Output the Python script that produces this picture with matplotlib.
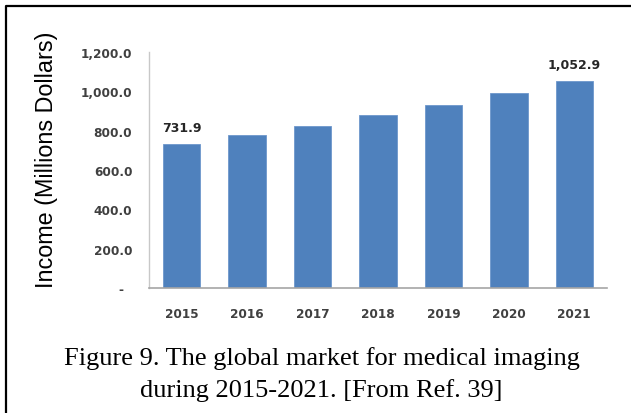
import matplotlib
matplotlib.use("Agg")
import matplotlib.pyplot as plt
from matplotlib.lines import Line2D
from matplotlib.ticker import FuncFormatter

years = ["2015", "2016", "2017", "2018", "2019", "2020", "2021"]
income = [731.9, 778, 826, 878, 933, 991, 1052.9]
labeled = {0: "731.9", 6: "1,052.9"}
yticks = [0, 200, 400, 600, 800, 1000, 1200]

W, H = 631, 414
fig = plt.figure(figsize=(W / 100, H / 100), dpi=100)
ax = fig.add_axes([149 / W, 1 - 289 / H, (607 - 149) / W, (289 - 53) / H])

x = list(range(len(years)))
bars = ax.bar(x, income, width=0.57, color="#4F81BD", edgecolor="#6d97cc", linewidth=0.6)
ax.set_xlim(-0.5, len(years) - 0.5)
ax.set_ylim(0, 1200)
ax.set_yticks(yticks)
ax.yaxis.set_major_formatter(FuncFormatter(lambda v, p: "-  " if v == 0 else f"{v:,.1f}"))
ax.set_xticks(x)
ax.set_xticklabels(years)

for s in ["top", "right"]:
    ax.spines[s].set_visible(False)
ax.spines["left"].set_color("#c8c8c8")
ax.spines["bottom"].set_color("#a6a6a6")
ax.spines["left"].set_linewidth(1.0)
ax.spines["bottom"].set_linewidth(1.2)

ax.tick_params(axis="both", length=0)
ax.tick_params(axis="y", pad=12)
ax.tick_params(axis="x", pad=14)
for lab in ax.get_xticklabels() + ax.get_yticklabels():
    lab.set_fontfamily("DejaVu Sans")
    lab.set_fontweight("bold")
    lab.set_fontsize(8.7)
    lab.set_color("#404040")

for i, t in labeled.items():
    ax.annotate(t, (x[i], income[i]), xytext=(0, 7.5), textcoords="offset points",
                ha="center", va="bottom", fontsize=9, fontweight="bold",
                family="DejaVu Sans", color="#262626")

fig.text(47 / W, 1 - 160 / H, "Income (Millions Dollars)", rotation=90,
         ha="center", va="center", fontsize=16.8, family="Liberation Sans", color="#000000")

fig.text(322 / W, 1 - 365 / H, "Figure 9. The global market for medical imaging",
         ha="center", va="baseline", fontsize=19, family="Liberation Serif", color="#000000")
fig.text(321 / W, 1 - 397 / H, "during 2015-2021. [From Ref. 39]",
         ha="center", va="baseline", fontsize=19, family="Liberation Serif", color="#000000")

fig.add_artist(Line2D([5.5 / W, 5.5 / W, 1.0], [0.0, 1 - 7 / H, 1 - 7 / H],
                      transform=fig.transFigure, color="black", linewidth=1.6))

fig.savefig("out.png", dpi=100)
